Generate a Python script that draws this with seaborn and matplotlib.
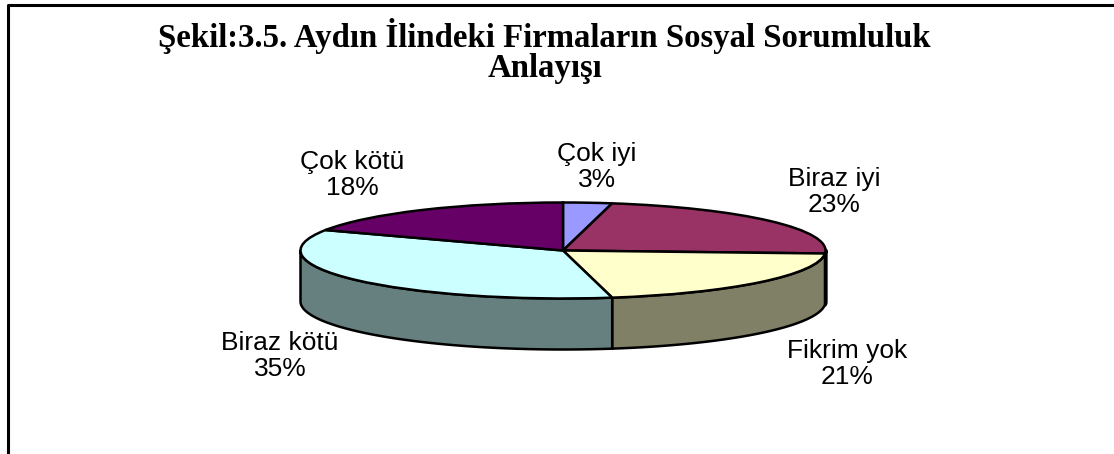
import numpy as np
import seaborn as sns
import matplotlib.pyplot as plt

# values
categories = ['Çok iyi', 'Biraz iyi', 'Fikrim yok', 'Biraz kötü', 'Çok kötü']
percents = [3, 23, 21, 35, 18]
top_colors = ['#9999FF', '#993366', '#FFFFCC', '#CCFFFF', '#660066']
title_lines = 'Şekil:3.5. Aydın İlindeki Firmaların Sosyal Sorumluluk\nAnlayışı'

W, H = 1114, 454
sns.set_theme(style='white')
plt.rcParams['font.family'] = ['Liberation Sans', 'DejaVu Sans']

palette = sns.color_palette(top_colors)
side_colors = [tuple(c * 0.5 for c in col) for col in palette]

fig = plt.figure(figsize=(W / 100, H / 100), dpi=100, facecolor='white')
ax = fig.add_axes([0, 0, 1, 1])

# pie centre and radii in pixels, pie radius is 1 in data units
cx, cy, rx, ry, depth = 563, 250.5, 262.5, 48, 51
ax.pie(percents, colors=palette, startangle=90, counterclock=False, radius=1,
       wedgeprops=dict(edgecolor='black', linewidth=1.8, zorder=5), frame=True)
ax.set_aspect('auto')
ax.set_xlim(-cx / rx, (W - cx) / rx)
ax.set_ylim((cy - H) / ry, cy / ry)
ax.axis('off')

# side wall of the pie, only the front half (90..270 deg clockwise from top) shows
drop = depth / ry
edges = np.cumsum([0] + percents) / sum(percents) * 360
for a0, a1, col in zip(edges[:-1], edges[1:], side_colors):
    lo, hi = max(a0, 90), min(a1, 270)
    if hi <= lo:
        continue
    th = np.radians(np.linspace(lo, hi, 80))
    xs = np.sin(th)
    ys = np.cos(th)
    # the sliver of the narrow wall at the right end reads as a thick black line
    lw = 3.0 if hi - lo < 5 else 1.8
    ax.fill(np.r_[xs, xs[::-1]], np.r_[ys, ys[::-1] - drop], facecolor=col,
            edgecolor='black', linewidth=lw, zorder=3 if lw > 2 else 4, joinstyle='round')

# frame, only top and left inside the crop
fig.add_artist(plt.Line2D([8 / W, 8 / W, 1], [0, 1 - 5 / H, 1 - 5 / H],
                          color='black', lw=2.2))

fig.text(544.5 / W, 1 - 51 / H, title_lines, ha='center', va='center', family='Liberation Serif',
         weight='bold', fontsize=23.6, color='black', linespacing=1.0)

# data labels
label_pos = [(597, 167), (834, 192), (847, 364), (280, 356), (352, 175)]
for name, pct, (px, py) in zip(categories, percents, label_pos):
    fig.text(px / W, 1 - py / H, f'{name}\n{pct}%', ha='center', va='center',
             fontsize=19, color='black', linespacing=1.12)

fig.savefig('out.png', dpi=100)
